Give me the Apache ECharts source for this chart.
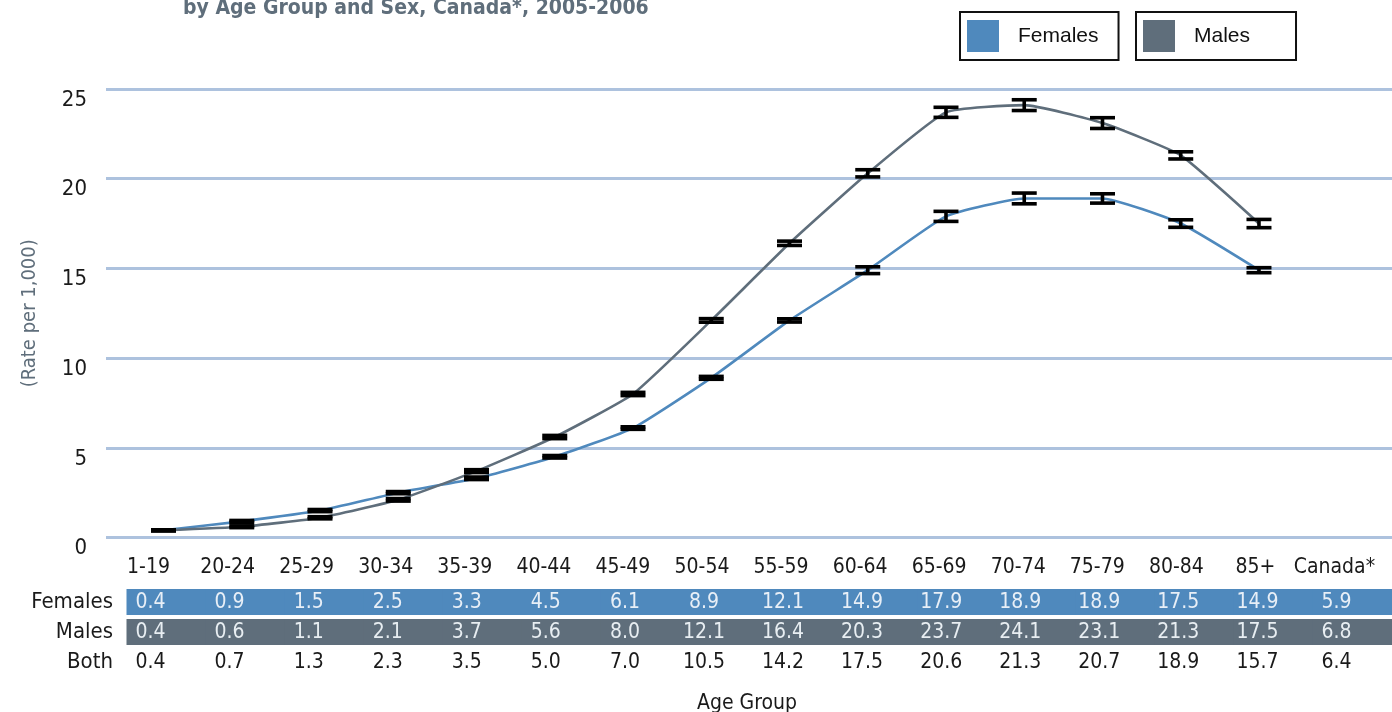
<!DOCTYPE html>
<html>
<head>
<meta charset="utf-8">
<script src="https://cdn.jsdelivr.net/npm/echarts@6/dist/echarts.min.js"></script>
<style>
html,body{margin:0;padding:0;background:#fff;}
#chart{width:1392px;height:712px;}
</style>
</head>
<body>
<div id="chart"></div>
<script>
// ---- data ----
const ageGroups = ['1-19','20-24','25-29','30-34','35-39','40-44','45-49','50-54','55-59','60-64','65-69','70-74','75-79','80-84','85+'];
const tableColumns = ['1-19','20-24','25-29','30-34','35-39','40-44','45-49','50-54','55-59','60-64','65-69','70-74','75-79','80-84','85+','Canada*'];
const tableRows = ['Females','Males','Both'];
const femalesRate = [0.4,0.9,1.5,2.5,3.3,4.5,6.1,8.9,12.1,14.9,17.9,18.9,18.9,17.5,14.9,5.9];
const malesRate   = [0.4,0.6,1.1,2.1,3.7,5.6,8.0,12.1,16.4,20.3,23.7,24.1,23.1,21.3,17.5,6.8];
const bothRate    = [0.4,0.7,1.3,2.3,3.5,5.0,7.0,10.5,14.2,17.5,20.6,21.3,20.7,18.9,15.7,6.4];
// 95% CI half-widths (estimated from the error bars)
const femalesCI = [0.03,0.05,0.06,0.06,0.07,0.07,0.07,0.08,0.09,0.19,0.28,0.30,0.26,0.21,0.14];
const malesCI   = [0.03,0.05,0.06,0.07,0.08,0.09,0.09,0.10,0.12,0.20,0.28,0.30,0.30,0.20,0.23];
const yTicks = [0,5,10,15,20,25];

const FEM = '#4f89bd', MAL = '#5f6e7b';
const NARROW = '"Liberation Sans Narrow","DejaVu Sans Condensed","Liberation Sans",sans-serif';

const femLine = ageGroups.map((g,i)=>[i, femalesRate[i]]);
const malLine = ageGroups.map((g,i)=>[i, malesRate[i]]);
const errData = [];
ageGroups.forEach((g,i)=>{
  errData.push([i, femalesRate[i], femalesRate[i]-femalesCI[i], femalesRate[i]+femalesCI[i]]);
  errData.push([i, malesRate[i], malesRate[i]-malesCI[i], malesRate[i]+malesCI[i]]);
});
const tableData = [];
[femalesRate, malesRate, bothRate].forEach((arr,r)=>{
  arr.forEach((v,c)=>tableData.push([c, r, v]));
});
const rowFill = [FEM, MAL, null];
const rowText = ['#e8eff7', '#e8eef2', '#1a1a1a'];

const chart = echarts.init(document.getElementById('chart'), null, {renderer:'canvas'});
const option = {
  animation:false,
  title:[
    {text:'by Age Group and Sex, Canada*, 2005-2006', left:178, top:-7,
     textStyle:{fontFamily:NARROW, fontSize:21, fontWeight:'bold', color:'#5f6e7b'}},
    {text:'Age Group', left:742, top:688, textAlign:'center',
     textStyle:{fontFamily:NARROW, fontSize:21, fontWeight:'normal', color:'#1a1a1a'}}
  ],
  legend:[
    {data:['Females'], left:960, top:12, orient:'horizontal', icon:'rect',
     itemWidth:32, itemHeight:32, borderColor:'#111', borderWidth:2, borderRadius:0,
     padding:[8,20,8,7],
     textStyle:{fontFamily:'"Liberation Sans",Arial,sans-serif', fontSize:21, color:'#111', padding:[0,0,0,14]}},
    {data:['Males'], left:1136, top:12, orient:'horizontal', icon:'rect',
     itemWidth:32, itemHeight:32, borderColor:'#111', borderWidth:2, borderRadius:0,
     padding:[8,46,8,7],
     textStyle:{fontFamily:'"Liberation Sans",Arial,sans-serif', fontSize:21, color:'#111', padding:[0,0,0,14]}}
  ],
  grid:[
    {left:106, right:0, top:89, bottom:174.5, containLabel:false},
    {left:127, right:0, top:587, height:90, containLabel:false}
  ],
  xAxis:[
    {type:'value', gridIndex:0, min:-0.735, max:15.70, show:false, splitLine:{show:false}},
    {type:'category', gridIndex:1, data:tableColumns, position:'top',
     axisLine:{show:false}, axisTick:{show:false}, splitLine:{show:false},
     axisLabel:{interval:0, margin:9, fontFamily:NARROW, fontSize:21, color:'#1a1a1a', padding:[0,36,0,0]}}
  ],
  yAxis:[
    {type:'value', gridIndex:0, min:0, max:25, interval:5,
     name:'(Rate per 1,000)', nameLocation:'middle', nameRotate:90, nameGap:66,
     nameTextStyle:{fontFamily:NARROW, fontSize:20, color:'#5f6e7b'},
     axisLine:{show:false}, axisTick:{show:false},
     axisLabel:{margin:19, fontFamily:NARROW, fontSize:22, color:'#1a1a1a', verticalAlign:'top',
       formatter:(v)=> yTicks.indexOf(v)>=0 ? String(v) : ''},
     splitLine:{show:true, lineStyle:{color:'#adc2de', width:3}}},
    {type:'category', gridIndex:1, data:tableRows, inverse:true,
     axisLine:{show:false}, axisTick:{show:false}, splitLine:{show:false},
     axisLabel:{margin:14, fontFamily:NARROW, fontSize:22, color:'#1a1a1a'}}
  ],
  series:[
    {name:'Females', type:'line', xAxisIndex:0, yAxisIndex:0, data:femLine,
     smooth:0.15, symbol:'none', lineStyle:{color:FEM, width:2.6}, itemStyle:{color:FEM}, z:2},
    {name:'Males', type:'line', xAxisIndex:0, yAxisIndex:0, data:malLine,
     smooth:0.15, symbol:'none', lineStyle:{color:MAL, width:2.6}, itemStyle:{color:MAL}, z:2},
    {name:'CI', type:'custom', xAxisIndex:0, yAxisIndex:0, data:errData, z:5,
     renderItem:(params, api)=>{
       const x = api.value(0);
       const lo = api.coord([x, api.value(2)]);
       const hi = api.coord([x, api.value(3)]);
       const hw = 12.5;
       const st = {stroke:'#000', lineWidth:3.6};
       return {type:'group', children:[
         {type:'line', shape:{x1:lo[0], y1:lo[1], x2:hi[0], y2:hi[1]}, style:st},
         {type:'line', shape:{x1:lo[0]-hw, y1:lo[1], x2:lo[0]+hw, y2:lo[1]}, style:st},
         {type:'line', shape:{x1:hi[0]-hw, y1:hi[1], x2:hi[0]+hw, y2:hi[1]}, style:st}
       ]};
     }},
    {name:'Table', type:'custom', xAxisIndex:1, yAxisIndex:1, data:tableData, z:3,
     renderItem:(params, api)=>{
       const c = api.value(0), r = api.value(1), v = api.value(2);
       const p = api.coord([c, r]);
       const w = api.size([1,0])[0];
       const h = api.size([0,1])[1];
       const children = [];
       if (rowFill[r]) {
         children.push({type:'rect', shape:{x:p[0]-w/2-0.5, y:p[1]-h/2+2, width:w+1, height:h-4},
           style:{fill:rowFill[r]}});
       }
       children.push({type:'text', x:p[0]-16, y:p[1]+1,
         style:{text:v.toFixed(1), fill:rowText[r], font:'21px ' + NARROW,
                textAlign:'center', textVerticalAlign:'middle'}});
       return {type:'group', children};
     }}
  ]
};
chart.setOption(option);
</script>
</body>
</html>
